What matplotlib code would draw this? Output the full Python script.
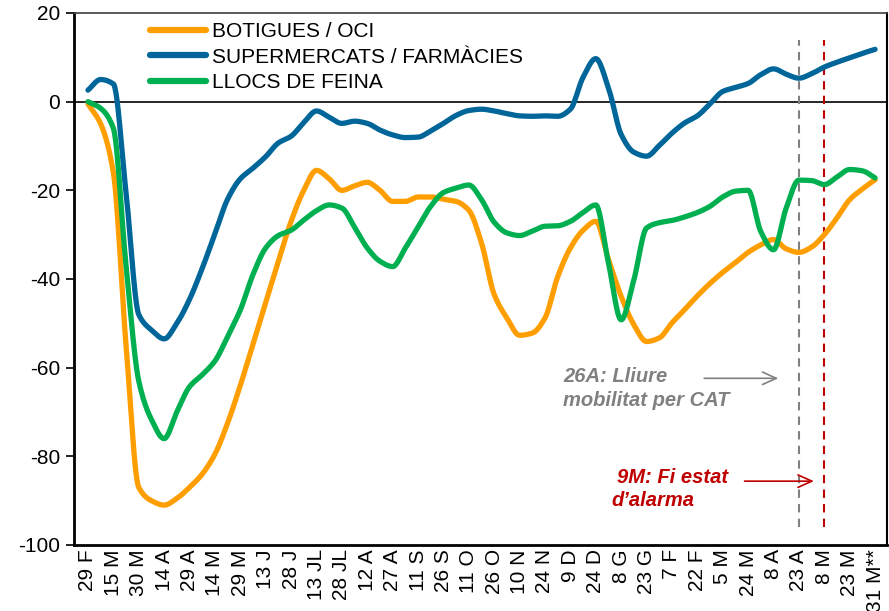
import numpy as np
import matplotlib
matplotlib.use("Agg")
import matplotlib.pyplot as plt

plt.rcParams['font.family'] = ['Liberation Sans', 'DejaVu Sans']
plt.rcParams['axes.unicode_minus'] = False

# Category labels (one every ~15 days); data read at half-label steps
labels = ["29 F", "15 M", "30 M", "14 A", "29 A", "14 M", "29 M", "13 J", "28 J",
          "13 JL", "28 JL", "12 A", "27 A", "11 S", "26 S", "11 O", "26 O", "10 N",
          "24 N", "9 D", "24 D", "8 G", "23 G", "7 F", "22 F", "5 M", "24 M", "8 A",
          "23 A", "8 M", "23 M", "31 M**"]

botigues = [-0.5, -5, -16, -55, -87, -90, -91, -89.5, -87, -84, -79.5, -72.5, -64, -54.7,
            -45.3, -36, -27, -20, -15.5, -17.4, -20, -19, -18.2, -20, -22.5, -22.5,
            -21.5, -21.5, -22, -22.5, -24.5, -31.9, -43.5, -48.8, -52.7, -52.2, -48.8,
            -39.5, -33, -29, -27, -35.6, -43.9, -50.3, -54.1, -53.3, -49.9, -46.9,
            -43.8, -41, -38.5, -36.3, -34, -32.3, -31.1, -33.2, -34, -32.8,
            -30, -26.2, -22.1, -19.7, -17.6]

supermercats = [2.6, 5.0, 4.0, -20.5, -48, -51.5, -53.5, -50, -44.6, -37.6, -29.8, -22,
                -17.4, -15, -12.4, -9.3, -7.8, -4.7, -2.1, -3.5, -4.9, -4.4, -4.9, -6.4,
                -7.5, -8.1, -8, -6.6, -4.9, -3.1, -2.0, -1.7, -2.1, -2.7, -3.2, -3.3,
                -3.2, -3.3, -1.7, 5.5, 9.7, 3.1, -7.4, -11.4, -12.3, -9.9, -7.1, -4.8,
                -3.2, -0.5, 2.3, 3.2, 4.1, 6.1, 7.4, 6.2, 5.3, 6.3, 7.8, 8.9, 9.9,
                10.9, 11.8]

llocs_feina = [0, -1.5, -6, -37, -63, -71.7, -76, -70, -64.3, -61.6, -58.5, -53, -47,
               -39, -33, -30.2, -29, -26.7, -24.6, -23.3, -24, -28.3, -33, -36, -37.2,
               -33, -28.3, -23.6, -20.5, -19.5, -18.8, -22.1, -27.2, -29.6, -30.2, -29.2,
               -28.1, -28, -27, -25, -23.3, -36.4, -49.2, -40.2, -28.5, -27.3, -26.8,
               -26, -25, -23.6, -21.5, -20.2, -20.0, -29.3, -33.4, -24, -17.7, -17.8,
               -18.7, -17, -15.3, -15.6, -17.2]

series_names = ["BOTIGUES / OCI", "SUPERMERCATS / FARMÀCIES", "LLOCS DE FEINA"]
series_colors = ["#FF9E00", "#00669A", "#00B050"]

event_positions = [28, 29]  # 23 A (26A) and 8 M (9M)


def smooth(x, y, n=24):
    """Monotone cubic (Fritsch-Carlson) curve through the points, for a smoothed look."""
    x = np.asarray(x, float)
    y = np.asarray(y, float)
    h = np.diff(x)
    d = np.diff(y) / h
    m = np.zeros_like(y)
    m[0], m[-1] = d[0], d[-1]
    for k in range(1, len(y) - 1):
        if d[k - 1] * d[k] <= 0:
            m[k] = 0.0
        else:
            w1 = 2 * h[k] + h[k - 1]
            w2 = h[k] + 2 * h[k - 1]
            m[k] = (w1 + w2) / (w1 / d[k - 1] + w2 / d[k])
    xs, ys = [], []
    t = np.linspace(0, 1, n, endpoint=False)
    for k in range(len(y) - 1):
        h00 = 2 * t ** 3 - 3 * t ** 2 + 1
        h10 = t ** 3 - 2 * t ** 2 + t
        h01 = -2 * t ** 3 + 3 * t ** 2
        h11 = t ** 3 - t ** 2
        xs.append(x[k] + t * h[k])
        ys.append(h00 * y[k] + h10 * h[k] * m[k] + h01 * y[k + 1] + h11 * h[k] * m[k + 1])
    xs.append([x[-1]])
    ys.append([y[-1]])
    return np.concatenate(xs), np.concatenate(ys)


fig = plt.figure(figsize=(8.89, 6.11), dpi=100)
ax = fig.add_axes([74 / 889, 1 - 545 / 611, (887 - 74) / 889, (545 - 13) / 611])

x = np.arange(len(botigues)) / 2.0
for vals, name, col in zip([botigues, supermercats, llocs_feina], series_names, series_colors):
    xs, ys = smooth(x, vals)
    ax.plot(xs, ys, color=col, lw=3.8, label=name, solid_capstyle='round',
            solid_joinstyle='round', zorder=3)

ax.axhline(0, color='black', lw=1.2, zorder=2)

ax.vlines(event_positions[0], -96, 14, colors='#808080', linestyles=(0, (4, 3)), lw=1.5, zorder=2)
ax.vlines(event_positions[1], -96, 14, colors='#C00000', linestyles=(0, (4, 3)), lw=1.5, zorder=2)

ax.set_xlim(-0.55, 31.47)
ax.set_ylim(-100, 20)
ax.set_yticks(np.arange(-100, 21, 20))
ax.set_xticks(np.arange(len(labels)))
ax.set_xticklabels(labels, rotation=90, fontsize=15)
ax.tick_params(axis='x', length=0, pad=3)
ax.tick_params(axis='y', labelsize=15, length=6, width=1.2, direction='out', pad=4)

for s in ['left', 'bottom']:
    ax.spines[s].set_linewidth(2.0)
    ax.spines[s].set_color('black')
ax.spines['top'].set_linewidth(1.2)
ax.spines['top'].set_color('#404040')
ax.spines['right'].set_linewidth(1.5)
ax.spines['right'].set_color('black')

# annotations
ax.text(18.72, -62.0, "26A: Lliure", color='#808080', fontsize=14.5, fontweight='bold',
        fontstyle='italic', va='center', ha='left')
ax.text(18.72, -67.3, "mobilitat per CAT", color='#808080', fontsize=14.5, fontweight='bold',
        fontstyle='italic', va='center', ha='left')
ax.annotate("", xy=(27.3, -62.4), xytext=(24.16, -62.4),
            arrowprops=dict(arrowstyle='->,head_length=1.0,head_width=0.45', color='#808080', lw=1.2))

ax.text(20.85, -84.8, "9M: Fi estat", color='#C00000', fontsize=14.5, fontweight='bold',
        fontstyle='italic', va='center', ha='left')
ax.text(20.6, -89.9, "d’alarma", color='#C00000', fontsize=14.5, fontweight='bold',
        fontstyle='italic', va='center', ha='left')
ax.annotate("", xy=(28.7, -85.6), xytext=(25.75, -85.6),
            arrowprops=dict(arrowstyle='->,head_length=1.0,head_width=0.45', color='#C00000', lw=1.2))

leg = ax.legend(loc='upper left', bbox_to_anchor=((150 - 74) / 813, (545 - 22) / 532),
                frameon=False, fontsize=15, handlelength=2.7, handletextpad=0.3,
                labelspacing=0.32, borderpad=0, borderaxespad=0)
for h in leg.get_lines():
    h.set_linewidth(4.5)

fig.savefig("out.png", dpi=100)
